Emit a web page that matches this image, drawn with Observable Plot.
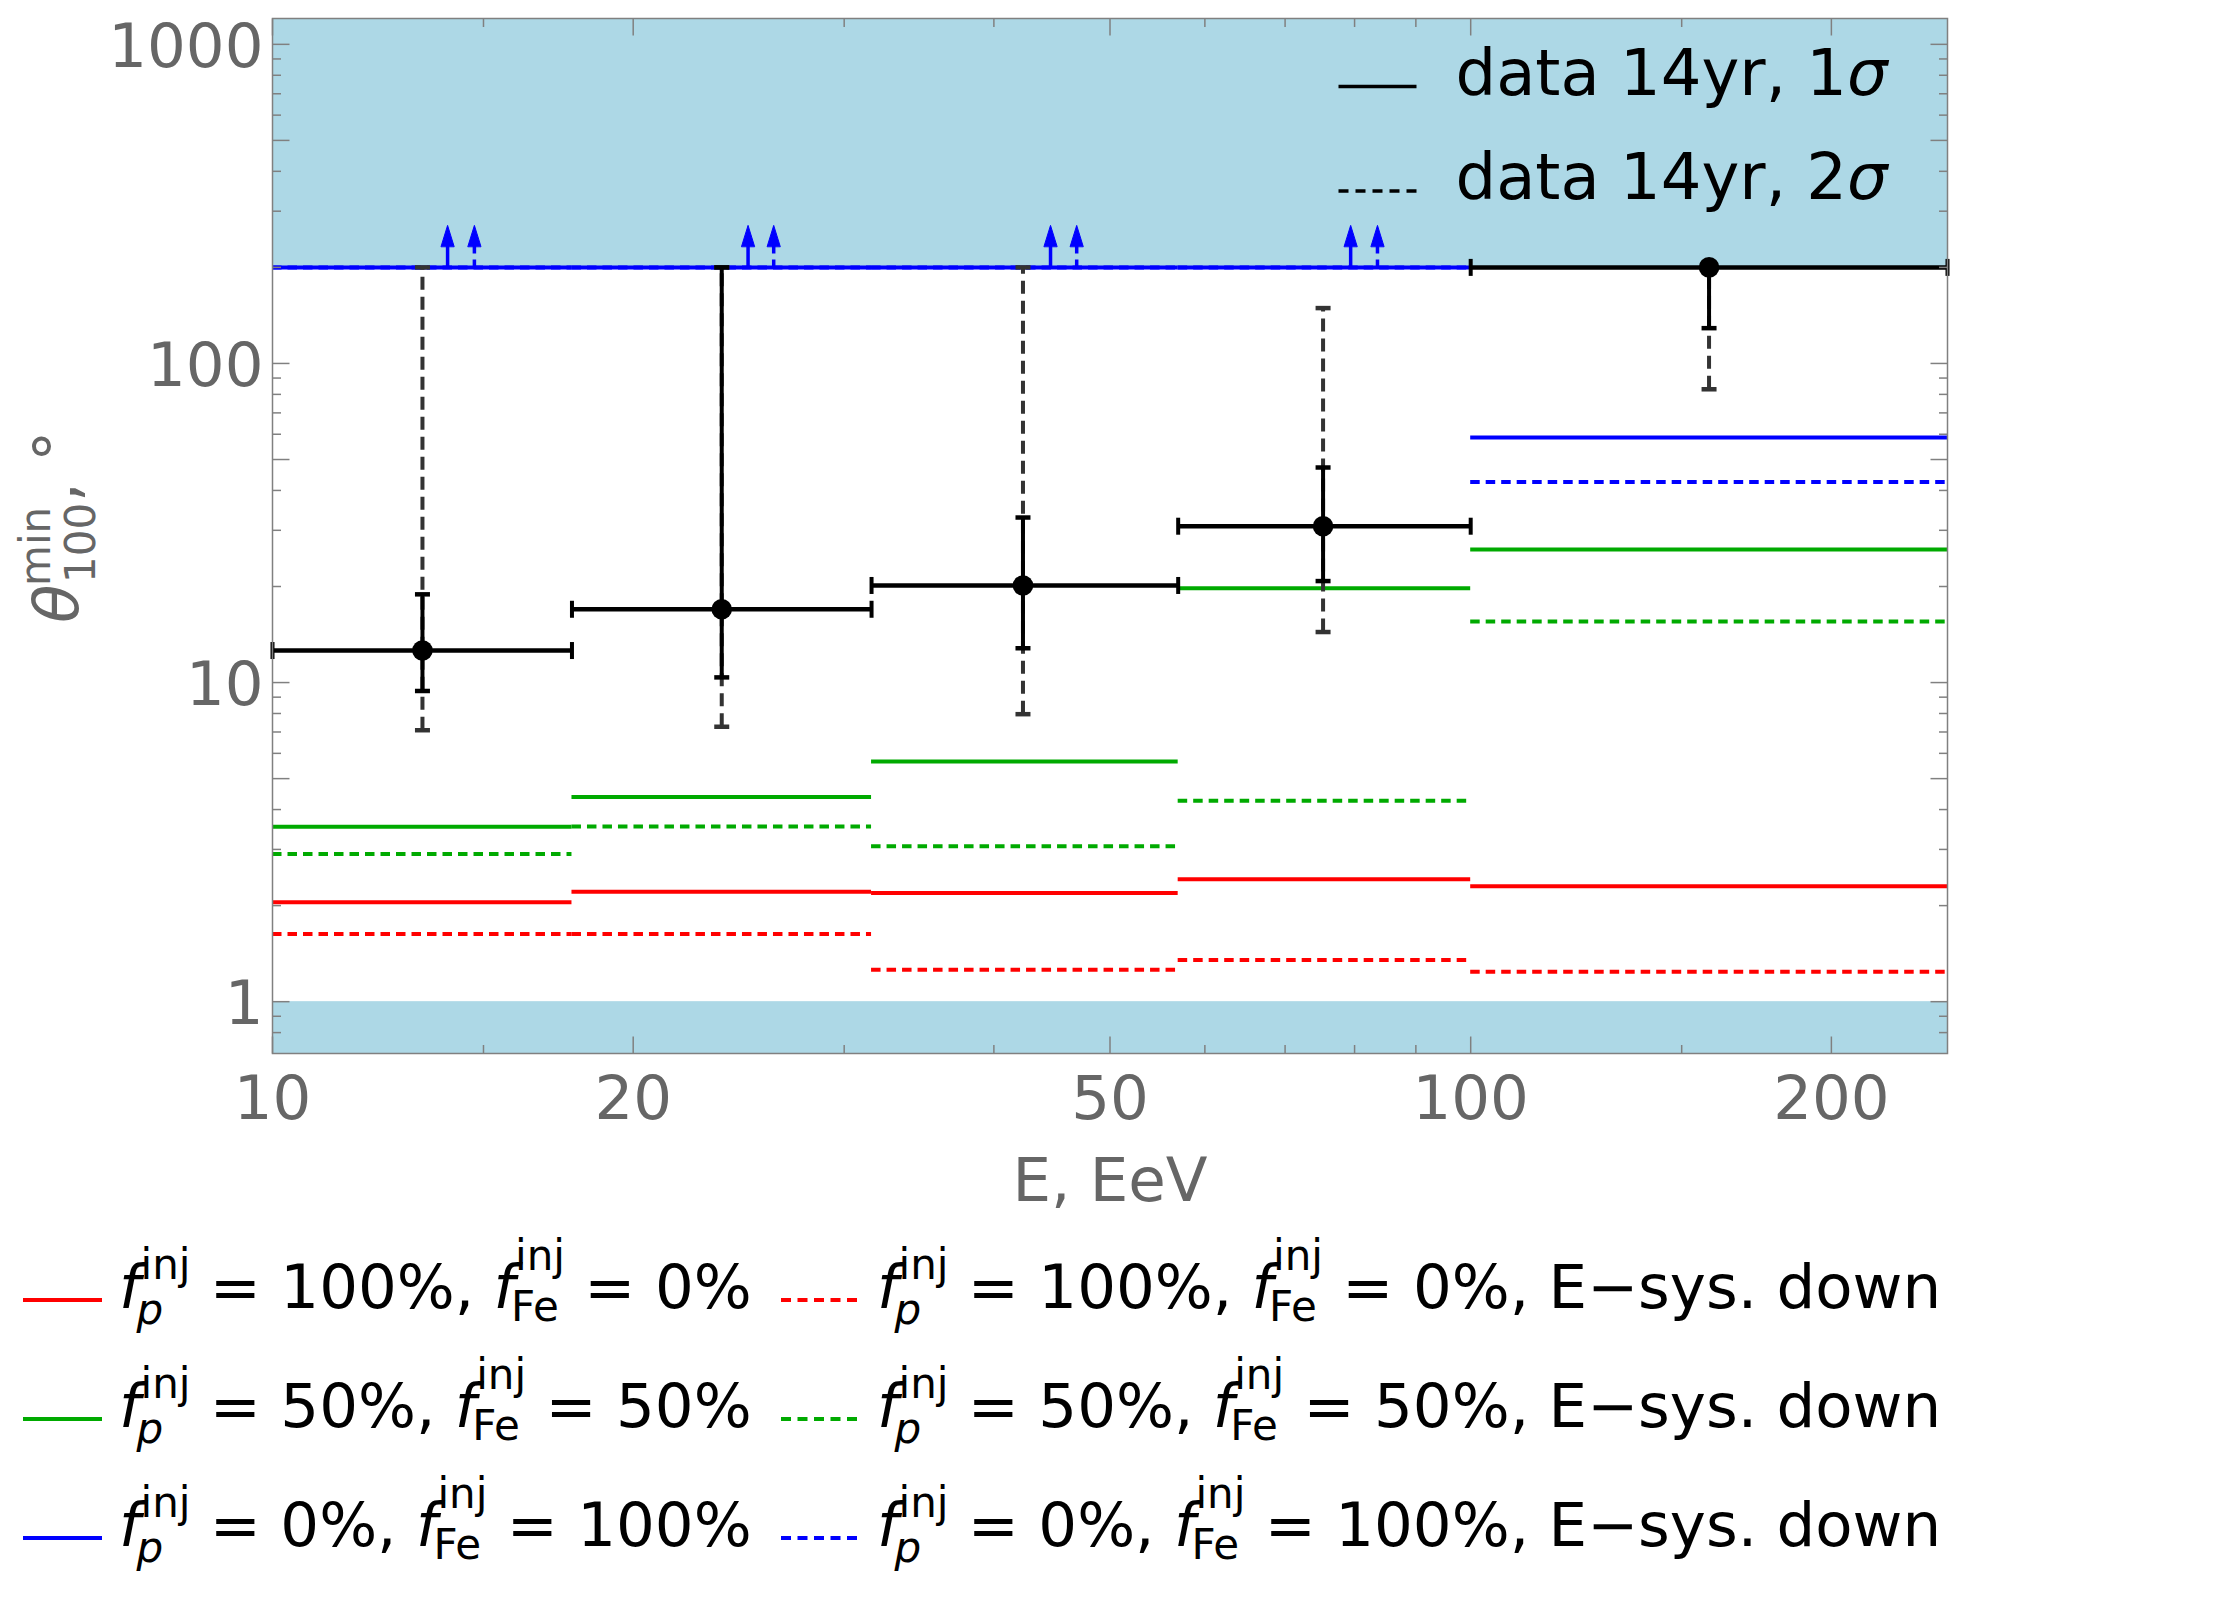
<!DOCTYPE html>
<html>
<head>
<meta charset="utf-8">
<script src="https://cdn.jsdelivr.net/npm/d3@7"></script>
<script src="https://cdn.jsdelivr.net/npm/@observablehq/plot@0.6"></script>
<style>
  body { margin: 0; background: white; }
  #wrap { position: relative; width: 2225px; height: 1597px; font-family: "DejaVu Sans", sans-serif; }
  #legend { position: relative; width: 2225px; height: 357px; }
  .item { position: absolute; font-size: 61px; line-height: 80px; white-space: nowrap; color: black; }
  .ss { position: relative; display: inline-block; font-size: 42px; line-height: 1; }
  .sp { position: relative; }
  .sb { position: absolute; left: -4px; }
  .sample { position: absolute; overflow: visible; }
</style>
</head>
<body>
<div id="wrap">
  <div id="chart"></div>
  <div id="legend"></div>
</div>
<script>
// ---------- data ----------
const xDomain = [10, 250];
const yDomain = [0.688, 1205];

const binLo  = [10, 17.78, 31.62, 57.0, 100];
const binHi  = [17.78, 31.62, 57.0, 100, 250];
const binMid = [13.34, 23.71, 42.3, 75.3, 158.1];

// data 14yr
const theta = [12.6, 16.97, 20.15, 30.9, 200];
const lo1   = [9.41, 10.38, 12.81, 20.8, 129];
const hi1   = [18.9, 200, 32.9, 47.2, 200];
const lo2   = [7.09, 7.27, 7.96, 14.4, 83.0];
const hi2   = [200, 200, 200, 149.1, 200];

// models
const pSolid   = [2.05, 2.21, 2.19, 2.42, 2.30];
const pDown    = [1.63, 1.63, 1.26, 1.35, 1.24];
const mixSolid = [3.53, 4.38, 5.66, 19.74, 26.1];
const mixDown  = [2.90, 3.54, 3.07, 4.26, 15.55];
const feSolid  = [200, 200, 200, 200, 58.6];
const feDown   = [200, 200, 200, 200, 42.5];

// lower-limit arrows for pure Fe
const feLimit = 200;
const feArrowX     = [14.0, 24.94, 44.6, 79.4];
const feArrowXDown = [14.74, 26.2, 46.9, 83.6];

// shaded (excluded) regions
const bandHigh = [200, yDomain[1]];
const bandLow  = [yDomain[0], 1];

// ticks
const xMajor = [10, 20, 50, 100, 200];
const xMinor = [15, 30, 40, 60, 70, 80, 90, 150];
const yMajor = [1, 5, 10, 50, 100, 500, 1000];
const yMinor = [0.8, 0.9, 2, 3, 4, 6, 7, 8, 9, 20, 30, 40, 60, 70, 80, 90, 200, 300, 400, 600, 700, 800, 900];

const RED = "#ff0000", GREEN = "#00aa00", BLUE = "#0000ff";
const MODEL_DASH = "9.5,6";
const ERR_DASH = "13,7";
const FRAME = "#808080", LABEL = "#666666";

const models = [
  {vals: pDown, color: RED, dash: MODEL_DASH},
  {vals: pSolid, color: RED, dash: null},
  {vals: mixDown, color: GREEN, dash: MODEL_DASH},
  {vals: mixSolid, color: GREEN, dash: null},
  {vals: feSolid, color: BLUE, dash: null},
  {vals: feDown, color: BLUE, dash: MODEL_DASH}
];

const pts = binMid.map((x, i) => ({
  x, y: theta[i], lo1: lo1[i], hi1: hi1[i], lo2: lo2[i], hi2: hi2[i], blo: binLo[i], bhi: binHi[i]
}));

// ---------- shapes ----------
const lineShape = {draw(ctx, l) { ctx.moveTo(0, 0); ctx.lineTo(0, -l); }};
const shaftShape = {draw(ctx, l) { ctx.moveTo(0, 0); ctx.lineTo(0, -l + 18); }};
const headShape = {draw(ctx, l) { ctx.moveTo(-6.5, -l + 21); ctx.lineTo(0, -l); ctx.lineTo(6.5, -l + 21); ctx.closePath(); }};

function ticks(values, anchor, len) {
  const base = {length: len, anchor: "start", shape: lineShape, stroke: FRAME, strokeWidth: 1.5, strokeLinecap: "butt"};
  if (anchor === "left")   return Plot.vector(values, {...base, y: d => d, frameAnchor: "left", rotate: 90});
  if (anchor === "right")  return Plot.vector(values, {...base, y: d => d, frameAnchor: "right", rotate: -90});
  if (anchor === "bottom") return Plot.vector(values, {...base, x: d => d, frameAnchor: "bottom", rotate: 0});
  return Plot.vector(values, {...base, x: d => d, frameAnchor: "top", rotate: 180});
}

const marks = [
  Plot.rect([bandHigh, bandLow], {x1: () => xDomain[0], x2: () => xDomain[1], y1: d => d[0], y2: d => d[1], fill: "#add8e6"}),
];

for (const m of models) {
  const rows = m.vals.map((v, i) => ({v, lo: binLo[i], hi: binHi[i]}));
  marks.push(Plot.ruleY(rows, {x1: "lo", x2: "hi", y: "v", stroke: m.color, strokeWidth: 4,
    strokeDasharray: m.dash ?? undefined}));
}

// arrows
marks.push(
  Plot.vector(feArrowX, {x: d => d, y: () => feLimit, length: 42, anchor: "start", shape: shaftShape, stroke: BLUE, strokeWidth: 3.5, strokeLinecap: "butt"}),
  Plot.vector(feArrowX, {x: d => d, y: () => feLimit, length: 42, anchor: "start", shape: headShape, fill: BLUE, stroke: BLUE, strokeWidth: 1}),
  Plot.vector(feArrowXDown, {x: d => d, y: () => feLimit, length: 42, anchor: "start", shape: shaftShape, stroke: BLUE, strokeWidth: 3.5, strokeLinecap: "butt", strokeDasharray: "8,6"}),
  Plot.vector(feArrowXDown, {x: d => d, y: () => feLimit, length: 42, anchor: "start", shape: headShape, fill: BLUE, stroke: BLUE, strokeWidth: 1})
);

// data error bars
const cap = (y, stroke, len) => Plot.vector(pts, {x: "x", y, rotate: 90, length: len, anchor: "middle", shape: lineShape, stroke, strokeWidth: 4.5, strokeLinecap: "butt"});
marks.push(
  Plot.ruleX(pts, {x: "x", y1: "lo2", y2: "hi2", stroke: "#333333", strokeWidth: 4, strokeDasharray: ERR_DASH}),
  cap("lo2", "#333333", 15), cap("hi2", "#333333", 15),
  Plot.ruleX(pts, {x: "x", y1: "lo1", y2: "hi1", stroke: "black", strokeWidth: 4}),
  cap("lo1", "black", 15), cap("hi1", "black", 15),
  Plot.ruleY(pts, {y: "y", x1: "blo", x2: "bhi", stroke: "black", strokeWidth: 4.5}),
  Plot.vector(pts, {x: "blo", y: "y", rotate: 0, length: 17, anchor: "middle", shape: lineShape, stroke: "black", strokeWidth: 4, strokeLinecap: "butt"}),
  Plot.vector(pts, {x: "bhi", y: "y", rotate: 0, length: 17, anchor: "middle", shape: lineShape, stroke: "black", strokeWidth: 4, strokeLinecap: "butt"}),
  Plot.dot(pts, {x: "x", y: "y", r: 10.3, fill: "black"})
);

// frame, ticks, labels
marks.push(
  Plot.frame({stroke: FRAME, strokeWidth: 1.5}),
  ticks(yMajor, "left", 17), ticks(yMinor, "left", 8.5),
  ticks(yMajor, "right", 17), ticks(yMinor, "right", 8.5),
  ticks(xMajor, "bottom", 17), ticks(xMinor, "bottom", 8.5),
  ticks(xMajor, "top", 17), ticks(xMinor, "top", 8.5),
  Plot.axisY({ticks: yMajor, tickFormat: d => `${d}`, tickSize: 0, tickPadding: 9, fontSize: 61, color: LABEL, label: null, dy: 3}),
  Plot.axisX({ticks: xMajor, tickFormat: d => `${d}`, tickSize: 0, tickPadding: 22, fontSize: 61, color: LABEL, label: null}),
  Plot.text(["E, EeV"], {text: d => d, frameAnchor: "bottom", lineAnchor: "middle", dy: 128, fontSize: 61, fill: LABEL}),
  // inner legend
  Plot.vector([0], {frameAnchor: "top-right", dx: -609, dy: 68, rotate: 90, length: 78, anchor: "start", shape: lineShape, stroke: "black", strokeWidth: 3.5, strokeLinecap: "butt"}),
  Plot.vector([0], {frameAnchor: "top-right", dx: -609, dy: 172.6, rotate: 90, length: 78, anchor: "start", shape: lineShape, stroke: "black", strokeWidth: 3.5, strokeLinecap: "butt", strokeDasharray: "10,7"}),
  Plot.text(["data 14yr, 1σ"], {text: d => d, frameAnchor: "top-right", textAnchor: "start", lineAnchor: "middle", dx: -492, dy: 56, fontSize: 64, fill: "black"}),
  Plot.text(["data 14yr, 2σ"], {text: d => d, frameAnchor: "top-right", textAnchor: "start", lineAnchor: "middle", dx: -492, dy: 160, fontSize: 64, fill: "black"})
);

const plot = Plot.plot({
  width: 2225,
  height: 1240,
  marginLeft: 272,
  marginRight: 278,
  marginTop: 18,
  marginBottom: 187,
  x: {type: "log", domain: xDomain},
  y: {type: "log", domain: yDomain},
  style: {fontFamily: "DejaVu Sans", background: "white", overflow: "visible"},
  marks
});

// italic sigma in inner legend
d3.select(plot).selectAll("text").each(function () {
  const t = this.textContent;
  if (t.endsWith("σ")) {
    this.textContent = t.slice(0, -1);
    d3.select(this).append("tspan").attr("font-style", "italic").text("σ");
  }
});

// y-axis label  θ^min_100, °
const yl = d3.select(plot).append("text")
  .attr("transform", "translate(78,623) rotate(-90)")
  .attr("text-anchor", "start")
  .attr("fill", LABEL)
  .attr("font-family", "DejaVu Sans");
yl.append("tspan").attr("x", 0).attr("y", 0).attr("font-size", 63).attr("font-style", "italic").text("θ");
yl.append("tspan").attr("x", 37).attr("y", -28).attr("font-size", 42).text("min");
yl.append("tspan").attr("x", 40).attr("y", 17).attr("font-size", 42).text("100");
yl.append("tspan").attr("x", 121).attr("y", 0).attr("font-size", 63).text(", °");

document.getElementById("chart").appendChild(plot);

// ---------- bottom legend ----------
const legendRows = [
  {p: "100%", fe: "0%", color: RED},
  {p: "50%", fe: "50%", color: GREEN},
  {p: "0%", fe: "100%", color: BLUE}
];
const legendCols = [
  {sampleX: 23, sampleW: 79, textX: 119, dash: null, suffix: ""},
  {sampleX: 781, sampleW: 76, textX: 877, dash: "10,6.5", suffix: ", E−sys. down"}
];
const ROW0 = 68, ROWSTEP = 118.8;
const fsym = (sub, raise, lower) =>
  `<i>f</i><span class="ss"><span class="sp" style="top:-${raise}px">inj</span><span class="sb" style="top:${lower}px">${sub}</span></span>`;

const leg = document.getElementById("legend");
let html = "";
legendRows.forEach((r, i) => {
  const base = ROW0 + i * ROWSTEP;
  legendCols.forEach(c => {
    html += `<svg class="sample" style="left:${c.sampleX}px;top:${base - 8 - 5}px" width="${c.sampleW}" height="10">
      <line x1="0" x2="${c.sampleW}" y1="5" y2="5" stroke="${r.color}" stroke-width="4.2" ${c.dash ? `stroke-dasharray="${c.dash}"` : ""}/></svg>`;
    html += `<div class="item" style="left:${c.textX}px;top:${(base - 61.1).toFixed(1)}px">${fsym("<i>p</i>", 29, 16)} = ${r.p}, ${fsym("Fe", 38, 13)} = ${r.fe}${c.suffix}</div>`;
  });
});
leg.innerHTML = html;
</script>
</body>
</html>
